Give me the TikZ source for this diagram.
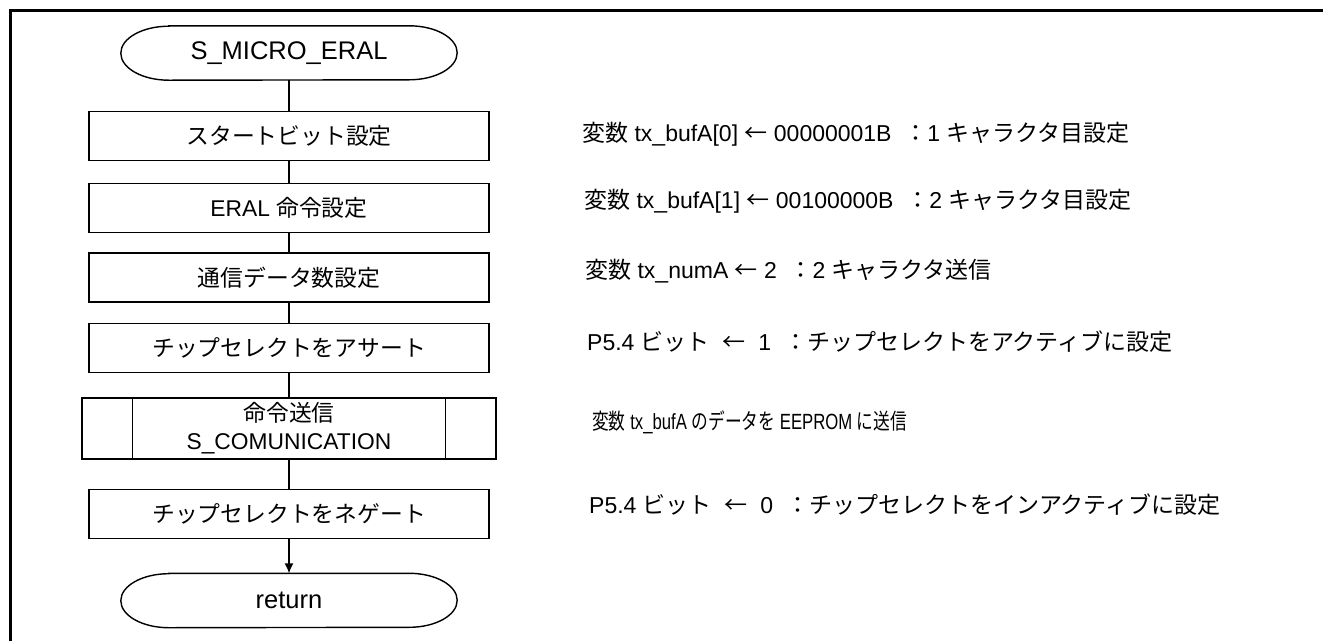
\documentclass[tikz,border=0pt]{standalone}
\usepackage{fontspec}
\usepackage{graphicx}
\setmainfont{Liberation Sans}
\newfontfamily\jpf{Noto Sans CJK JP}
\usetikzlibrary{arrows.meta}
\newcommand\jp[1]{{\jpf #1}}
\newcommand\termshape[1]{%
  \draw[line width=1.4pt] ([xshift=48pt]#1.north west) -- ([xshift=-48pt]#1.north east)
    arc[start angle=90,end angle=-90,x radius=48pt,y radius=27pt]
    -- ([xshift=48pt]#1.south west)
    arc[start angle=270,end angle=90,x radius=48pt,y radius=27pt] -- cycle;}
\begin{document}
\begin{tikzpicture}[x=1pt,y=-1pt,
  term/.style={minimum width=336pt, minimum height=54pt, inner sep=0pt, font=\fontsize{25.5}{30}\selectfont},
  proc/.style={draw, line width=1.4pt, minimum width=400pt, minimum height=49pt, inner sep=0pt, font=\fontsize{22.8}{28}\selectfont},
  note/.style={anchor=west, inner sep=0pt, font=\fontsize{23}{28}\selectfont},
  link/.style={line width=1.4pt}]
\useasboundingbox (0,0) rectangle (1323,641);
\draw[line width=3pt] (10,641) -- (10,10) -- (1323,10);

\node[term] (start) at (289,53) {S\_MICRO\_ERAL};
\termshape{start}
\node[proc] (b1) at (289,136) {\jp{スタートビット設定}};
\node[proc] (b2) at (289,208) {ERAL \jp{命令設定}};
\node[proc] (b3) at (289,277.5) {\jp{通信データ数設定}};
\node[proc] (b4) at (289,348) {\jp{チップセレクトをアサート}};
\node[proc, minimum width=414pt, minimum height=61pt, align=center] (b5) at (289,428.5) {\jp{命令送信}\\S\_COMUNICATION};
\draw[line width=1.4pt] ([xshift=51pt]b5.north west) -- ([xshift=51pt]b5.south west);
\draw[line width=1.4pt] ([xshift=-51pt]b5.north east) -- ([xshift=-51pt]b5.south east);
\node[proc] (b6) at (289,514) {\jp{チップセレクトをネゲート}};
\node[term] (ret) at (289,600.5) {return};
\termshape{ret}

\draw[link] (start.south) -- (b1.north);
\draw[link] (b1.south) -- (b2.north);
\draw[link] (b2.south) -- (b3.north);
\draw[link] (b3.south) -- (b4.north);
\draw[link] (b4.south) -- (b5.north);
\draw[link] (b5.south) -- (b6.north);
\draw[link, -{Latex[length=10pt,width=9pt]}] (b6.south) -- (ret.north);

\node[note] (n1) at (582,134) {\jp{変数} tx\_bufA[0] \jp{←} 00000001B\ \ \jp{：}1 \jp{キャラクタ目設定}};
\node[note] (n2) at (584,201) {\jp{変数} tx\_bufA[1] \jp{←} 00100000B\ \ \jp{：}2 \jp{キャラクタ目設定}};
\node[note] (n3) at (585,271) {\jp{変数} tx\_numA \jp{←} 2\ \ \jp{：}2 \jp{キャラクタ送信}};
\node[note] (n4) at (587,342) {P5.4 \jp{ビット}\ \ \jp{←}\ \ 1\ \ \jp{：チップセレクトをアクティブに設定}};
\node[note] (n5) at (592,422) {\scalebox{0.76}[1]{\fontsize{22}{27}\selectfont\jp{変数} tx\_bufA \jp{のデータを} EEPROM \jp{に送信}}};
\node[note] (n6) at (589,505) {P5.4 \jp{ビット}\ \ \jp{←}\ \ 0\ \ \jp{：チップセレクトをインアクティブに設定}};
\end{tikzpicture}
\end{document}
